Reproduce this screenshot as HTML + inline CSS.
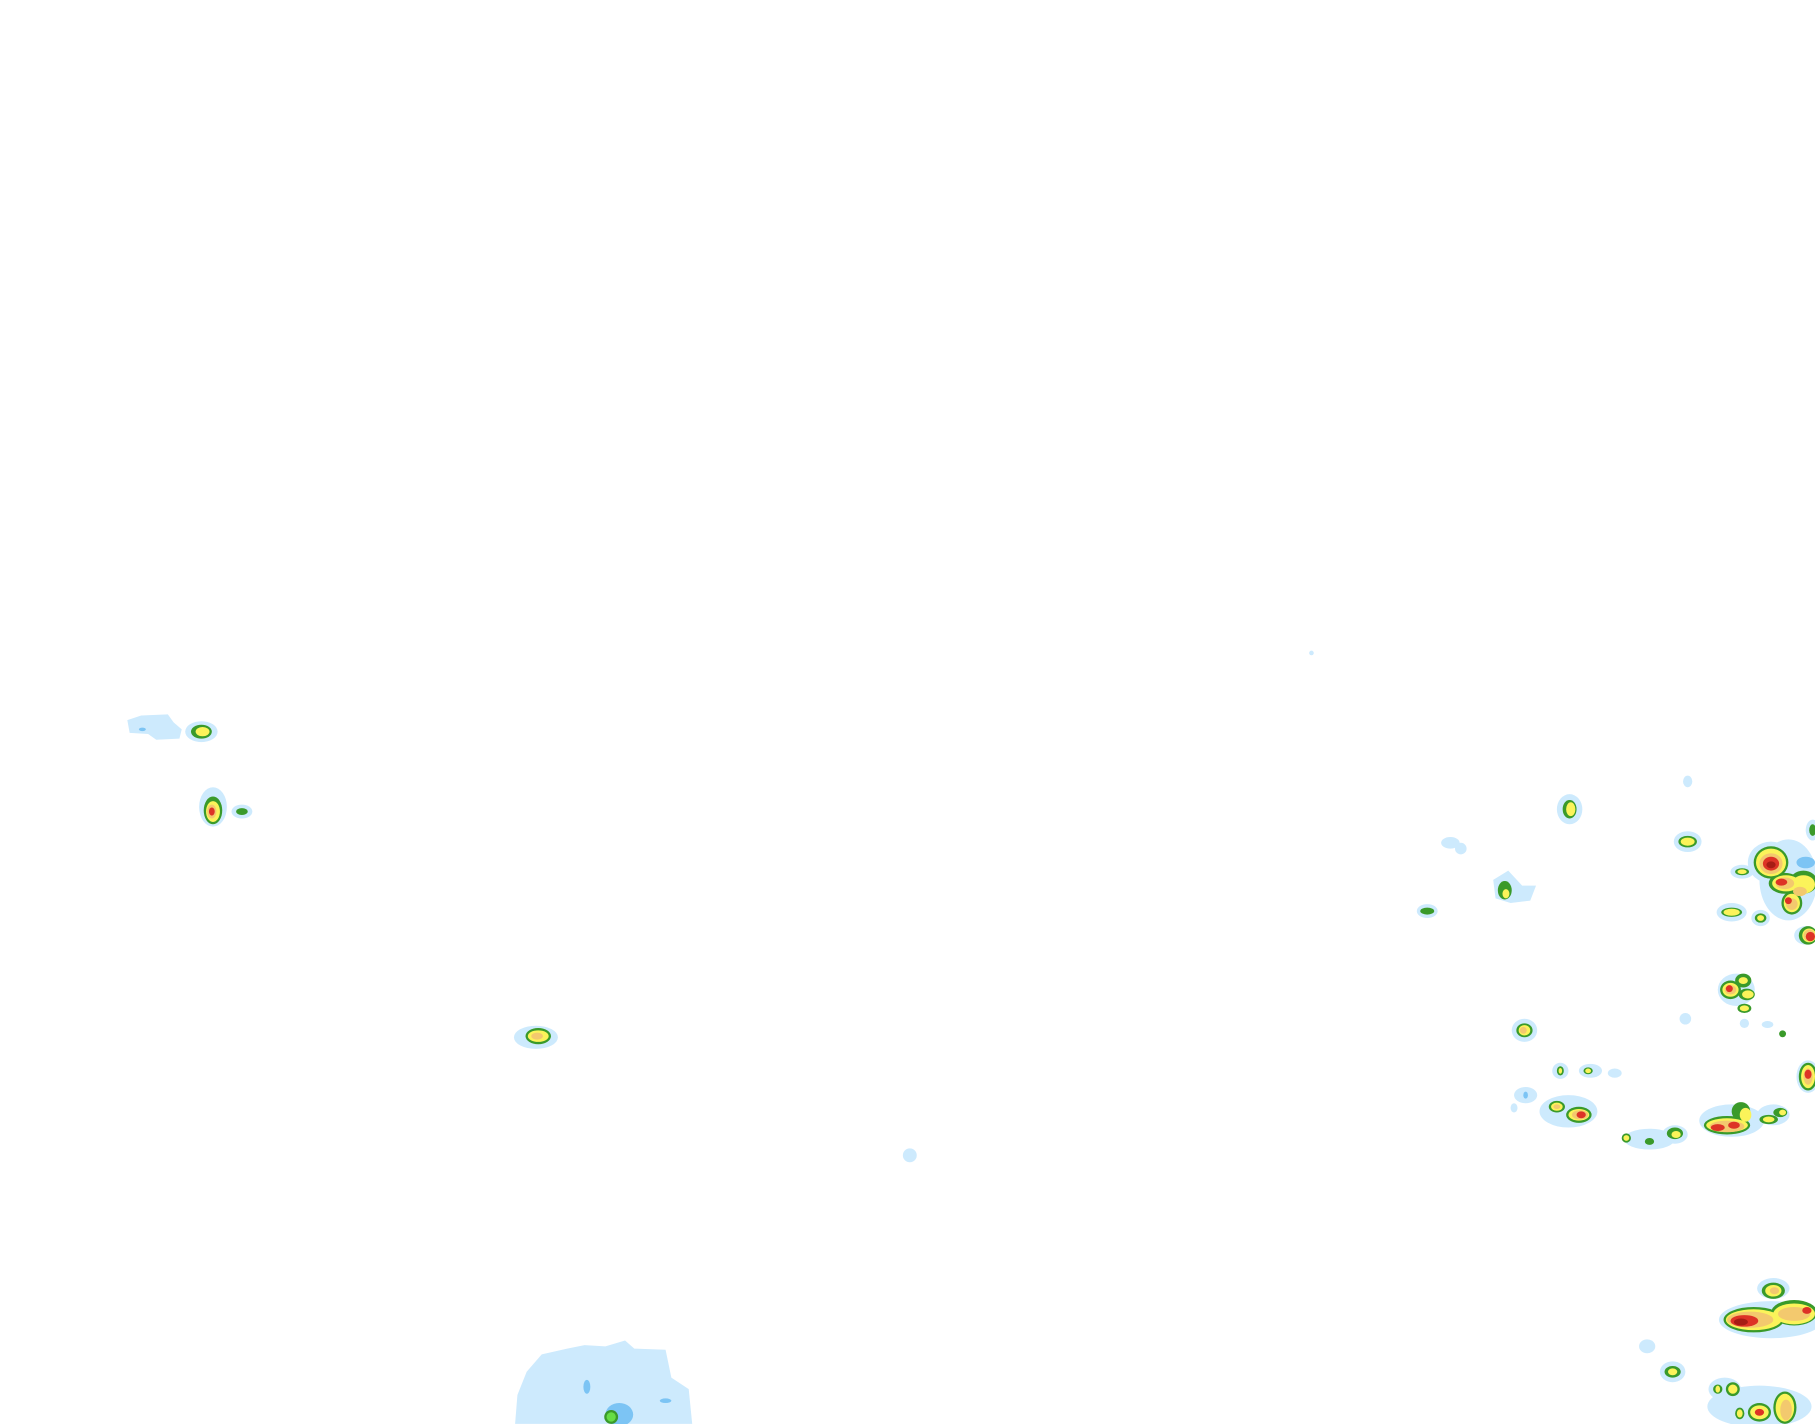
<!DOCTYPE html>
<html><head><meta charset="utf-8"><style>html,body{margin:0;padding:0;background:#fff;}svg{display:block;}</style></head>
<body>
<svg width="1815" height="1424" viewBox="0 0 1568 1230" xmlns="http://www.w3.org/2000/svg">
<rect width="1568" height="1230" fill="#fff"/>
<g fill="#cdeafd">
<path d="M110 622 L122 618 L145 617 L150 624 L157 630 L155 638 L135 639 L128 634 L112 633 Z"/>
<ellipse cx="786" cy="998" rx="6" ry="6"/>
<ellipse cx="1133" cy="564" rx="2" ry="2"/>
<path d="M445 1230 L447 1205 L455 1185 L468 1170 L490 1165 L505 1162 L523 1163 L540 1158 L548 1165 L575 1166 L580 1190 L595 1200 L598 1230 Z"/>
<ellipse cx="1253" cy="728" rx="8" ry="5"/>
<ellipse cx="1262" cy="733" rx="5" ry="5"/>
<path d="M1290 760 L1303 752 L1315 765 L1327 765 L1322 778 L1305 780 L1292 776 Z"/>
<ellipse cx="1458" cy="675" rx="4" ry="5"/>
<ellipse cx="1456" cy="880" rx="5" ry="5"/>
<ellipse cx="1507" cy="884" rx="4" ry="4"/>
<ellipse cx="1527" cy="885" rx="5" ry="3"/>
<ellipse cx="1395" cy="927" rx="6" ry="4"/>
<ellipse cx="1318" cy="946" rx="10" ry="7"/>
<ellipse cx="1308" cy="957" rx="3" ry="4"/>
<ellipse cx="1423" cy="1163" rx="7" ry="6"/>
<ellipse cx="1425" cy="984" rx="22" ry="9"/>
<ellipse cx="1496" cy="968" rx="28" ry="14"/>
<ellipse cx="1530" cy="1140" rx="45" ry="16"/>
<ellipse cx="1532" cy="1113" rx="14" ry="9"/>
<ellipse cx="1545" cy="760" rx="25" ry="35"/>
<ellipse cx="1562" cy="755" rx="10" ry="12"/>
<ellipse cx="1560" cy="808" rx="10" ry="8"/>
<ellipse cx="1500" cy="855" rx="16" ry="14"/>
<ellipse cx="1520" cy="1215" rx="45" ry="18"/>
<ellipse cx="1562" cy="930" rx="10" ry="14"/>
<ellipse cx="174" cy="632" rx="14" ry="9"/>
<ellipse cx="184" cy="697" rx="12" ry="17"/>
<ellipse cx="209" cy="701" rx="9" ry="6"/>
<ellipse cx="463" cy="896" rx="19" ry="10"/>
<ellipse cx="1356" cy="699" rx="11" ry="13"/>
<ellipse cx="1233" cy="787" rx="9" ry="6"/>
<ellipse cx="1458" cy="727" rx="12" ry="9"/>
<ellipse cx="1505" cy="753" rx="10" ry="6"/>
<ellipse cx="1530" cy="745" rx="20" ry="18"/>
<ellipse cx="1496" cy="788" rx="13" ry="8"/>
<ellipse cx="1521" cy="793" rx="8" ry="7"/>
<ellipse cx="1317" cy="890" rx="11" ry="10"/>
<ellipse cx="1348" cy="925" rx="7" ry="7"/>
<ellipse cx="1374" cy="925" rx="10" ry="6"/>
<ellipse cx="1355" cy="960" rx="25" ry="14"/>
<ellipse cx="1447" cy="980" rx="11" ry="8"/>
<ellipse cx="1532" cy="963" rx="14" ry="9"/>
<ellipse cx="1445" cy="1185" rx="11" ry="9"/>
<ellipse cx="1490" cy="1200" rx="14" ry="10"/>
<ellipse cx="1566" cy="717" rx="6" ry="9"/>
</g>
<g fill="#7cc4f4">
<ellipse cx="123" cy="630" rx="3" ry="1.5"/>
<ellipse cx="507" cy="1198" rx="3" ry="6"/>
<ellipse cx="575" cy="1210" rx="5" ry="2"/>
<ellipse cx="535" cy="1222" rx="12" ry="10"/>
<ellipse cx="1560" cy="745" rx="8" ry="5"/>
<ellipse cx="1318" cy="946" rx="2" ry="3"/>
</g>
<g fill="#3a9a2a">
<ellipse cx="174" cy="632" rx="9" ry="6"/>
<ellipse cx="184" cy="700" rx="8" ry="12"/>
<ellipse cx="209" cy="701" rx="5" ry="3"/>
<ellipse cx="465" cy="895" rx="11" ry="7"/>
<ellipse cx="1356" cy="699" rx="6" ry="8"/>
<ellipse cx="1300" cy="769" rx="6" ry="8"/>
<ellipse cx="1233" cy="787" rx="6" ry="3"/>
<ellipse cx="1458" cy="727" rx="8" ry="5"/>
<ellipse cx="1505" cy="753" rx="6" ry="3"/>
<ellipse cx="1530" cy="745" rx="15" ry="14"/>
<ellipse cx="1542" cy="763" rx="14" ry="9"/>
<ellipse cx="1548" cy="780" rx="9" ry="10"/>
<ellipse cx="1558" cy="762" rx="12" ry="10"/>
<ellipse cx="1562" cy="808" rx="8" ry="8"/>
<ellipse cx="1496" cy="788" rx="9" ry="4"/>
<ellipse cx="1521" cy="793" rx="5" ry="4"/>
<ellipse cx="1495" cy="855" rx="9" ry="8"/>
<ellipse cx="1506" cy="847" rx="7" ry="6"/>
<ellipse cx="1509" cy="859" rx="7" ry="5"/>
<ellipse cx="1507" cy="871" rx="6" ry="4"/>
<ellipse cx="1540" cy="893" rx="3" ry="3"/>
<ellipse cx="1317" cy="890" rx="7" ry="6"/>
<ellipse cx="1348" cy="925" rx="3" ry="4"/>
<ellipse cx="1372" cy="925" rx="4" ry="3"/>
<ellipse cx="1345" cy="956" rx="7" ry="5"/>
<ellipse cx="1364" cy="963" rx="11" ry="7"/>
<ellipse cx="1405" cy="983" rx="4" ry="4"/>
<ellipse cx="1425" cy="986" rx="4" ry="3"/>
<ellipse cx="1447" cy="979" rx="7" ry="5"/>
<ellipse cx="1492" cy="972" rx="20" ry="8"/>
<ellipse cx="1504" cy="960" rx="8" ry="8"/>
<ellipse cx="1528" cy="967" rx="8" ry="4"/>
<ellipse cx="1538" cy="961" rx="6" ry="4"/>
<ellipse cx="1562" cy="930" rx="8" ry="12"/>
<ellipse cx="1566" cy="717" rx="3" ry="5"/>
<ellipse cx="1532" cy="1115" rx="10" ry="7"/>
<ellipse cx="1515" cy="1140" rx="26" ry="11"/>
<ellipse cx="1550" cy="1134" rx="20" ry="11"/>
<ellipse cx="1445" cy="1185" rx="7" ry="5"/>
<ellipse cx="1484" cy="1200" rx="4" ry="4"/>
<ellipse cx="1497" cy="1200" rx="6" ry="6"/>
<ellipse cx="1503" cy="1221" rx="4" ry="5"/>
<ellipse cx="1520" cy="1220" rx="10" ry="8"/>
<ellipse cx="1542" cy="1216" rx="10" ry="14"/>
<ellipse cx="528" cy="1224" rx="6" ry="6"/>
</g>
<g fill="#fbf35a">
<ellipse cx="175" cy="632" rx="6" ry="4"/>
<ellipse cx="184" cy="701" rx="6" ry="9"/>
<ellipse cx="465" cy="895" rx="9" ry="5"/>
<ellipse cx="1357" cy="699" rx="4" ry="6"/>
<ellipse cx="1301" cy="772" rx="3" ry="4"/>
<ellipse cx="1458" cy="727" rx="6" ry="3.5"/>
<ellipse cx="1505" cy="753" rx="4" ry="2"/>
<ellipse cx="1530" cy="745" rx="13" ry="12"/>
<ellipse cx="1543" cy="763" rx="12" ry="7"/>
<ellipse cx="1548" cy="780" rx="7" ry="8"/>
<ellipse cx="1558" cy="764" rx="10" ry="8"/>
<ellipse cx="1563" cy="808" rx="6" ry="6"/>
<ellipse cx="1496" cy="788" rx="7" ry="3"/>
<ellipse cx="1521" cy="793" rx="3" ry="2.5"/>
<ellipse cx="1495" cy="855" rx="7" ry="6"/>
<ellipse cx="1506" cy="847" rx="4" ry="3"/>
<ellipse cx="1510" cy="859" rx="5" ry="3.5"/>
<ellipse cx="1507" cy="871" rx="4" ry="2.5"/>
<ellipse cx="1317" cy="890" rx="5" ry="4.5"/>
<ellipse cx="1348" cy="925" rx="1.5" ry="2.5"/>
<ellipse cx="1372" cy="925" rx="2.5" ry="2"/>
<ellipse cx="1345" cy="956" rx="5" ry="3.5"/>
<ellipse cx="1364" cy="963" rx="9" ry="5"/>
<ellipse cx="1405" cy="983" rx="2.5" ry="2.5"/>
<ellipse cx="1448" cy="980" rx="4" ry="3"/>
<ellipse cx="1492" cy="972" rx="18" ry="6"/>
<ellipse cx="1508" cy="963" rx="5" ry="6"/>
<ellipse cx="1528" cy="967" rx="5" ry="2.5"/>
<ellipse cx="1540" cy="961" rx="3" ry="2.5"/>
<ellipse cx="1562" cy="930" rx="6" ry="10"/>
<ellipse cx="1532" cy="1115" rx="7" ry="5"/>
<ellipse cx="1515" cy="1140" rx="24" ry="9"/>
<ellipse cx="1550" cy="1135" rx="18" ry="9"/>
<ellipse cx="1445" cy="1185" rx="4" ry="3"/>
<ellipse cx="1484" cy="1200" rx="2" ry="3"/>
<ellipse cx="1497" cy="1200" rx="4" ry="4"/>
<ellipse cx="1503" cy="1221" rx="2.5" ry="3.5"/>
<ellipse cx="1520" cy="1220" rx="8" ry="6"/>
<ellipse cx="1542" cy="1216" rx="8" ry="12"/>
</g>
<g fill="#f3c96e">
<ellipse cx="183" cy="701" rx="4" ry="6"/>
<ellipse cx="464" cy="895" rx="5" ry="3"/>
<ellipse cx="1530" cy="746" rx="10" ry="9"/>
<ellipse cx="1542" cy="763" rx="8" ry="5"/>
<ellipse cx="1548" cy="781" rx="5" ry="5"/>
<ellipse cx="1555" cy="770" rx="6" ry="4"/>
<ellipse cx="1563" cy="808" rx="5" ry="5"/>
<ellipse cx="1495" cy="855" rx="5" ry="4"/>
<ellipse cx="1316" cy="890" rx="3" ry="3"/>
<ellipse cx="1345" cy="956" rx="3" ry="2"/>
<ellipse cx="1365" cy="963" rx="7" ry="4"/>
<ellipse cx="1492" cy="973" rx="15" ry="5"/>
<ellipse cx="1562" cy="930" rx="4" ry="7"/>
<ellipse cx="1533" cy="1115" rx="4" ry="3"/>
<ellipse cx="1512" cy="1140" rx="20" ry="7"/>
<ellipse cx="1550" cy="1135" rx="14" ry="6"/>
<ellipse cx="1543" cy="1218" rx="5" ry="9"/>
</g>
<g fill="#dd3326">
<ellipse cx="183" cy="701" rx="2.5" ry="3.5"/>
<ellipse cx="1530" cy="746" rx="7" ry="6"/>
<ellipse cx="1539" cy="762" rx="5" ry="3"/>
<ellipse cx="1545" cy="778" rx="3" ry="3"/>
<ellipse cx="1564" cy="809" rx="4" ry="4"/>
<ellipse cx="1494" cy="854" rx="3" ry="3"/>
<ellipse cx="1366" cy="963" rx="4" ry="3"/>
<ellipse cx="1484" cy="974" rx="6" ry="3"/>
<ellipse cx="1498" cy="972" rx="5" ry="3"/>
<ellipse cx="1562" cy="928" rx="3" ry="4"/>
<ellipse cx="1507" cy="1141" rx="12" ry="5"/>
<ellipse cx="1561" cy="1132" rx="4" ry="3"/>
<ellipse cx="1520" cy="1220" rx="4" ry="3"/>
</g>
<g fill="#a61c14">
<ellipse cx="1530" cy="747" rx="4" ry="3"/>
<ellipse cx="1504" cy="1142" rx="6" ry="3"/>
</g>
<g fill="#66dd44">
<ellipse cx="528" cy="1224" rx="4" ry="4"/>
</g>
</svg>
</body></html>
